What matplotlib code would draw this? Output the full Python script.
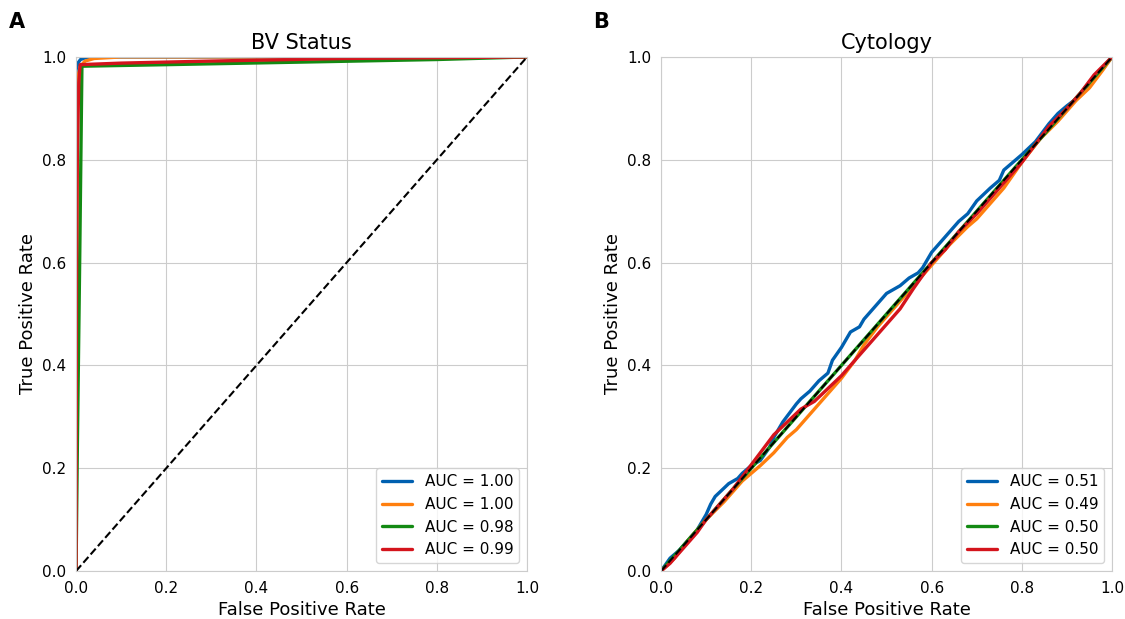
import matplotlib.pyplot as plt
import seaborn as sns

sns.set_style("whitegrid")
plt.rcParams['font.family'] = ['DejaVu Sans']
plt.rcParams['text.color'] = 'black'
plt.rcParams['axes.labelcolor'] = 'black'
plt.rcParams['xtick.color'] = 'black'
plt.rcParams['ytick.color'] = 'black'

colors = ["#0060b0", "#ff7f0e", "#138a13", "#d4141c"]

# BV Status ROC curves
bv_labels = ["AUC = 1.00", "AUC = 1.00", "AUC = 0.98", "AUC = 0.99"]
bv_fpr = [
    [0, 0.0, 0.004, 0.01, 0.02, 0.05, 1.0],
    [0, 0.002, 0.005, 0.01, 0.02, 0.04, 0.1, 1.0],
    [0, 0.003, 0.008, 0.013, 0.2, 0.5, 0.8, 1.0],
    [0, 0.001, 0.003, 0.006, 0.009, 0.1, 0.3, 0.6, 1.0],
]
bv_tpr = [
    [0, 0.975, 0.988, 0.995, 0.998, 1.0, 1.0],
    [0, 0.88, 0.965, 0.982, 0.992, 0.997, 1.0, 1.0],
    [0, 0.25, 0.6, 0.982, 0.985, 0.99, 0.995, 1.0],
    [0, 0.55, 0.82, 0.95, 0.985, 0.988, 0.992, 0.997, 1.0],
]

# Cytology ROC curves
cy_labels = ["AUC = 0.51", "AUC = 0.49", "AUC = 0.50", "AUC = 0.50"]
cy_fpr = [
    [0, 0.02, 0.04, 0.05, 0.08, 0.1, 0.11, 0.12, 0.15, 0.17, 0.18, 0.2, 0.22, 0.24, 0.25,
     0.27, 0.3, 0.31, 0.33, 0.35, 0.37, 0.38, 0.4, 0.42, 0.44, 0.45, 0.48, 0.5, 0.53,
     0.55, 0.57, 0.58, 0.6, 0.63, 0.66, 0.68, 0.7, 0.73, 0.75, 0.76, 0.8, 0.83, 0.86,
     0.88, 0.9, 0.93, 0.96, 1.0],
    [0, 0.03, 0.06, 0.1, 0.14, 0.18, 0.22, 0.25, 0.28, 0.3, 0.33, 0.36, 0.4, 0.43, 0.45,
     0.48, 0.52, 0.55, 0.6, 0.64, 0.68, 0.7, 0.73, 0.76, 0.8, 0.84, 0.88, 0.92, 0.95,
     0.98, 1.0],
    [0, 0.05, 0.1, 0.15, 0.2, 0.25, 0.3, 0.35, 0.4, 0.45, 0.5, 0.55, 0.6, 0.65, 0.7,
     0.75, 0.8, 0.85, 0.9, 0.95, 1.0],
    [0, 0.02, 0.05, 0.08, 0.1, 0.13, 0.16, 0.19, 0.22, 0.25, 0.28, 0.31, 0.34, 0.37,
     0.4, 0.43, 0.46, 0.5, 0.53, 0.56, 0.6, 0.63, 0.66, 0.7, 0.73, 0.76, 0.8, 0.83,
     0.86, 0.9, 0.93, 0.96, 1.0],
]
cy_tpr = [
    [0, 0.025, 0.04, 0.05, 0.08, 0.11, 0.13, 0.145, 0.17, 0.18, 0.19, 0.205, 0.215, 0.24,
     0.26, 0.29, 0.325, 0.335, 0.35, 0.37, 0.385, 0.41, 0.435, 0.465, 0.475, 0.49, 0.52,
     0.54, 0.555, 0.57, 0.58, 0.59, 0.62, 0.65, 0.68, 0.695, 0.72, 0.745, 0.76, 0.78,
     0.81, 0.835, 0.87, 0.89, 0.905, 0.925, 0.955, 1.0],
    [0, 0.025, 0.06, 0.1, 0.135, 0.175, 0.205, 0.23, 0.26, 0.275, 0.305, 0.335, 0.375,
     0.41, 0.44, 0.475, 0.515, 0.545, 0.595, 0.635, 0.67, 0.685, 0.715, 0.745, 0.795,
     0.84, 0.875, 0.915, 0.94, 0.975, 1.0],
    [0, 0.05, 0.1, 0.15, 0.2, 0.25, 0.3, 0.35, 0.4, 0.45, 0.5, 0.55, 0.6, 0.65, 0.7,
     0.75, 0.8, 0.85, 0.9, 0.95, 1.0],
    [0, 0.015, 0.045, 0.075, 0.1, 0.13, 0.16, 0.195, 0.23, 0.265, 0.29, 0.315, 0.33,
     0.355, 0.38, 0.41, 0.44, 0.48, 0.51, 0.55, 0.6, 0.625, 0.66, 0.695, 0.725, 0.755,
     0.795, 0.83, 0.865, 0.9, 0.93, 0.965, 1.0],
]

fig = plt.figure(figsize=(11.25, 6.19), dpi=100)
ax1 = fig.add_axes([0.0676, 0.0775, 0.4009, 0.8305])
ax2 = fig.add_axes([0.5876, 0.0775, 0.4009, 0.8305])

panels = [
    (ax1, "BV Status", bv_fpr, bv_tpr, bv_labels),
    (ax2, "Cytology", cy_fpr, cy_tpr, cy_labels),
]
for ax, title, fprs, tprs, labels in panels:
    for f, t, lab, c in zip(fprs, tprs, labels, colors):
        ax.plot(f, t, color=c, lw=2.4, label=lab)
    ax.plot([0, 1], [0, 1], "k--", lw=1.5)
    ax.set_xlim(0, 1)
    ax.set_ylim(0, 1)
    ax.set_title(title, fontsize=15)
    ax.set_xlabel("False Positive Rate", fontsize=13)
    ax.set_ylabel("True Positive Rate", fontsize=13)
    ax.tick_params(labelsize=11)
    ax.legend(loc="lower right", fontsize=11)
    for s in ax.spines.values():
        s.set_color("#cccccc")

fig.text(0.008, 0.955, "A", fontsize=15, fontweight="bold")
fig.text(0.527, 0.955, "B", fontsize=15, fontweight="bold")

plt.savefig("out.png", dpi=100)
